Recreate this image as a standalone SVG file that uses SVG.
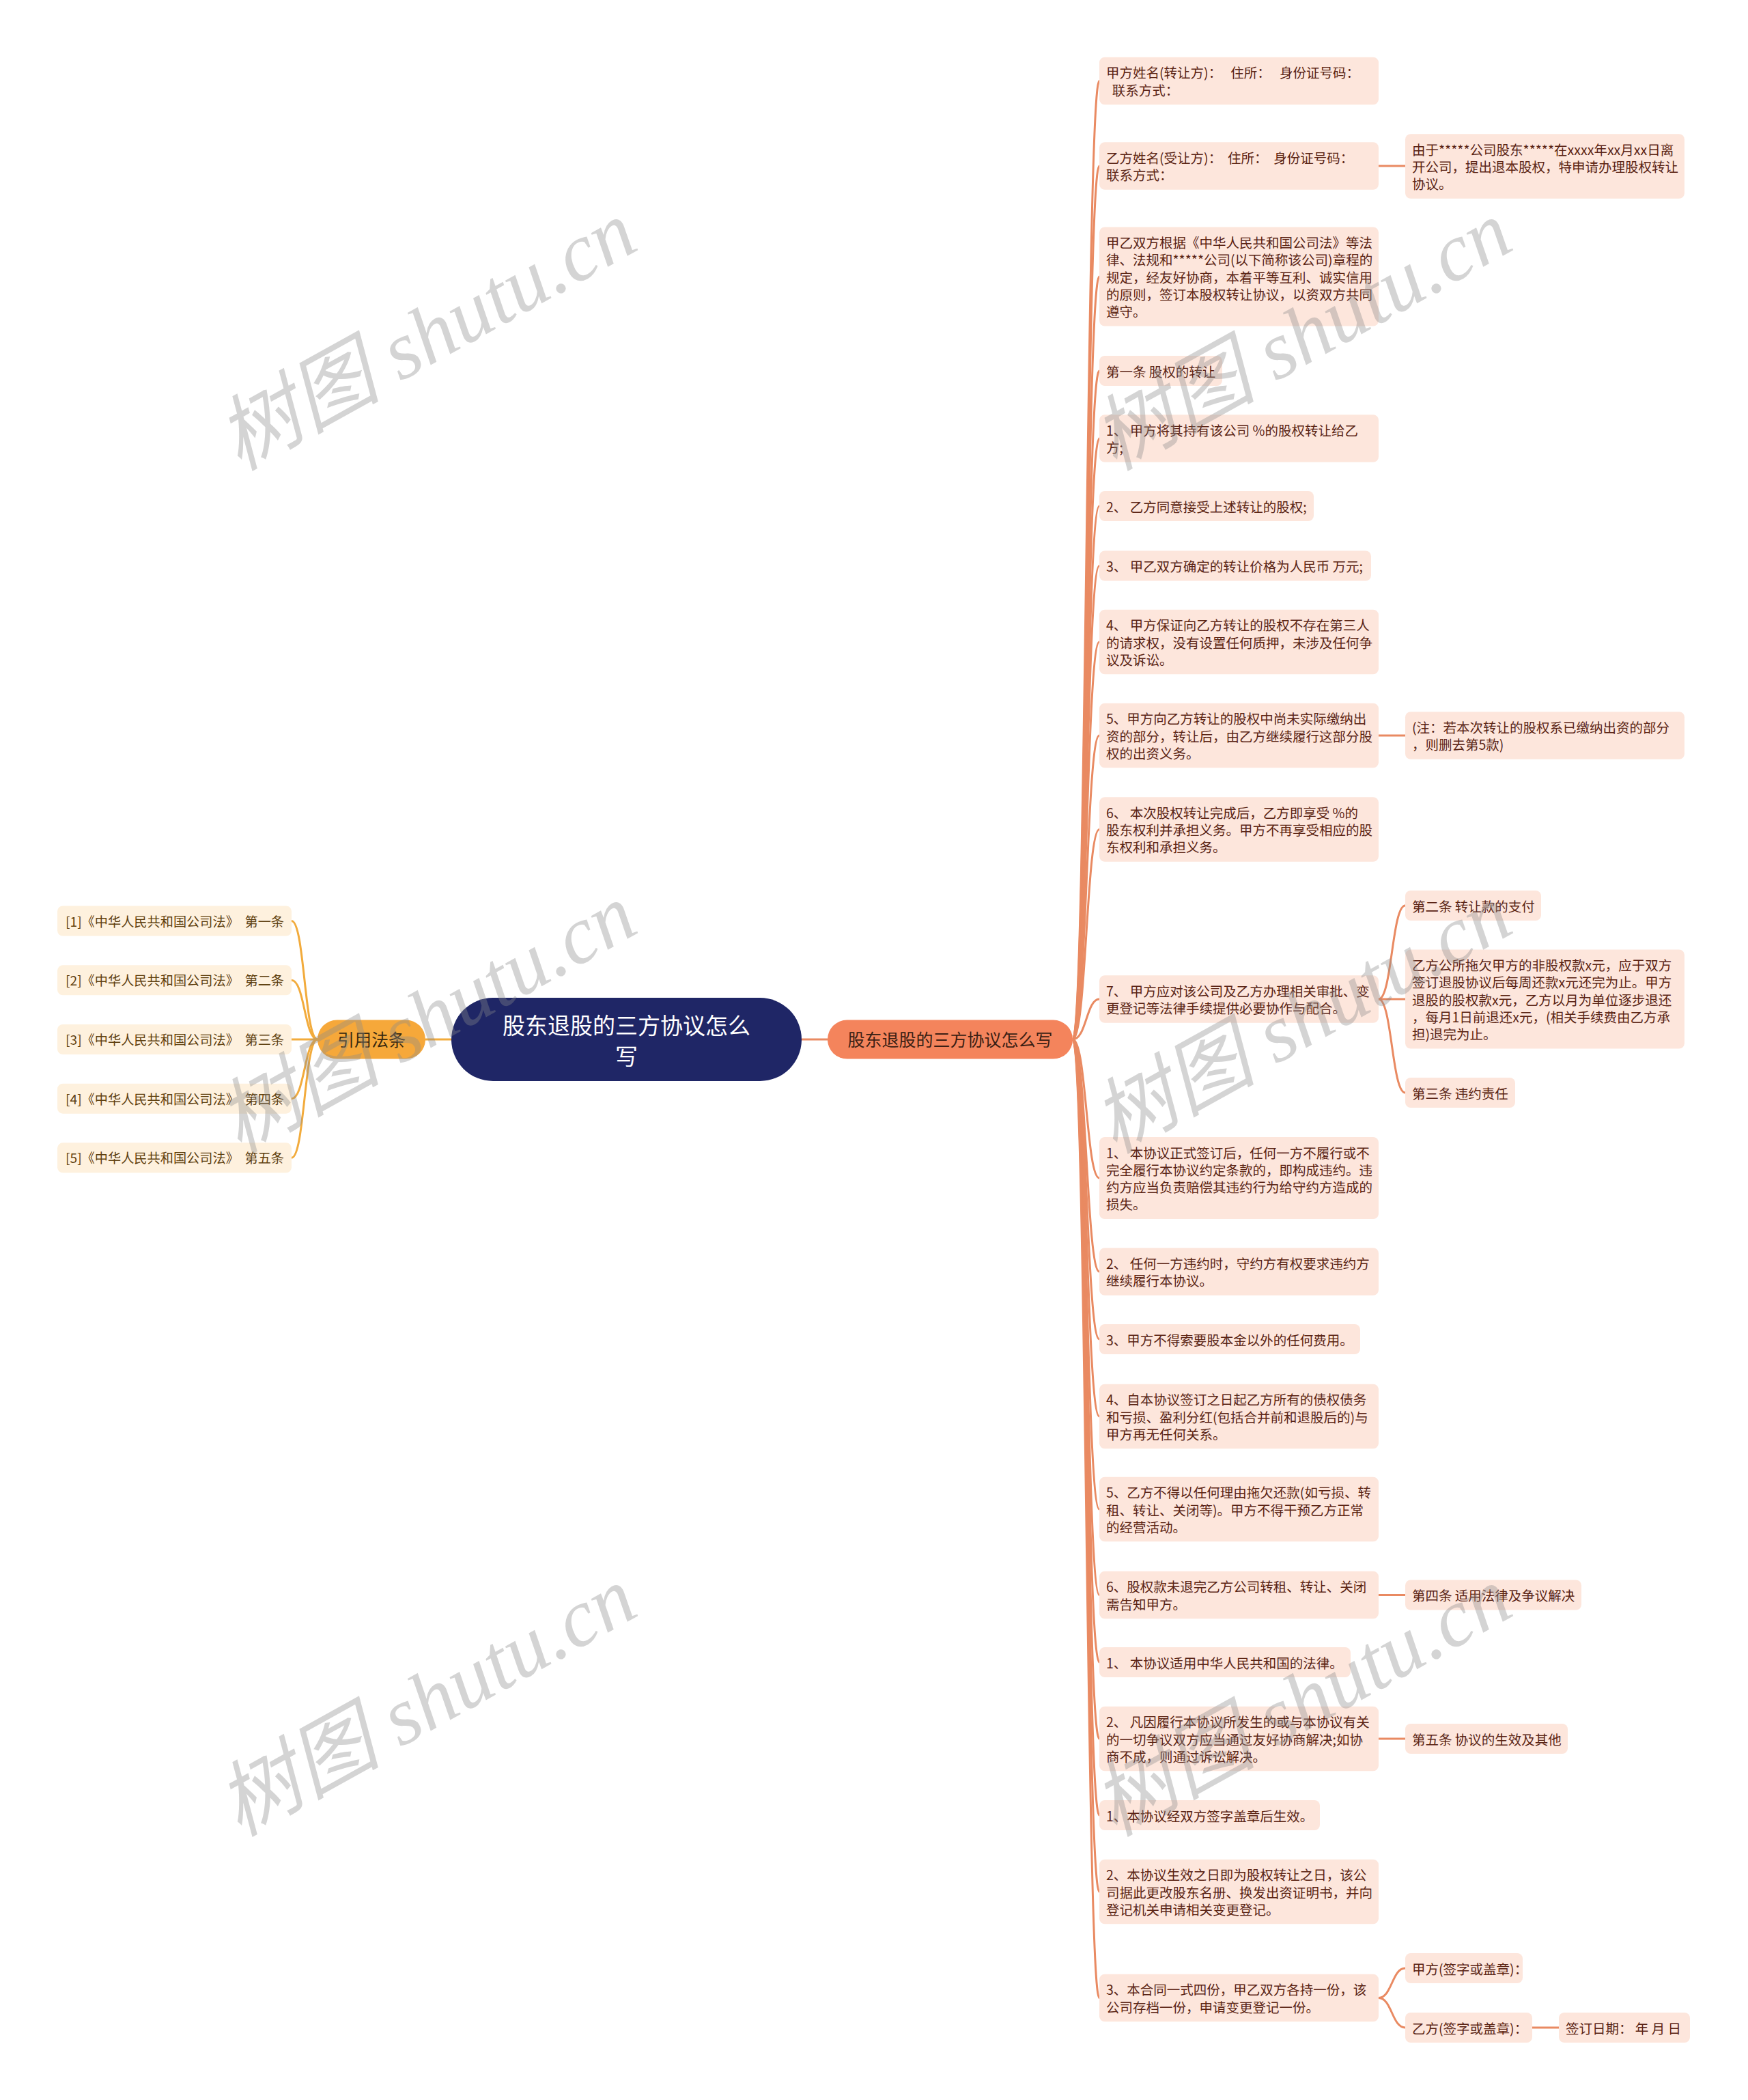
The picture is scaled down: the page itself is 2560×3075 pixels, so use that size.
<svg xmlns="http://www.w3.org/2000/svg" width="2560" height="3075" viewBox="0 0 2560 3075">
<style>
.rn{fill:#FDE6DC}
.ln{fill:#FEF1DE}
.rt{font-family:"Noto Sans CJK SC",sans-serif;font-size:19.5px;fill:#5a2414}
.lt{font-family:"Noto Sans CJK SC",sans-serif;font-size:19.2px;fill:#5e400f}
.cr{fill:none;stroke:#E98A62;stroke-width:3}
.cl{fill:none;stroke:#F2AB3C;stroke-width:3}
.wm{font-family:"Liberation Serif","Noto Sans CJK SC",serif;font-style:italic;font-size:120px;fill:#8a8a8a;opacity:0.36}
</style>
<rect width="2560" height="3075" fill="#ffffff"/>
<g id="connectors">
<path class="cl" d="M623 1522 L661 1522"/>
<path class="cr" d="M1174 1522 L1212 1522"/>
<path class="cl" d="M465 1522 C446 1522 446 1348.5 427 1348.5"/>
<path class="cl" d="M465 1522 C446 1522 446 1435.3 427 1435.3"/>
<path class="cl" d="M465 1522 L427 1522"/>
<path class="cl" d="M465 1522 C446 1522 446 1608.7 427 1608.7"/>
<path class="cl" d="M465 1522 C446 1522 446 1695.3 427 1695.3"/>
<path class="cr" d="M1571 1522 C1591 1522 1591 118.5 1610 118.5"/>
<path class="cr" d="M1571 1522 C1591 1522 1591 243 1610 243"/>
<path class="cr" d="M1571 1522 C1591 1522 1591 405 1610 405"/>
<path class="cr" d="M1571 1522 C1591 1522 1591 543 1610 543"/>
<path class="cr" d="M1571 1522 C1591 1522 1591 642 1610 642"/>
<path class="cr" d="M1571 1522 C1591 1522 1591 741 1610 741"/>
<path class="cr" d="M1571 1522 C1591 1522 1591 828.5 1610 828.5"/>
<path class="cr" d="M1571 1522 C1591 1522 1591 940 1610 940"/>
<path class="cr" d="M1571 1522 C1591 1522 1591 1077 1610 1077"/>
<path class="cr" d="M1571 1522 C1591 1522 1591 1214.5 1610 1214.5"/>
<path class="cr" d="M1571 1522 C1591 1522 1591 1463 1610 1463"/>
<path class="cr" d="M1571 1522 C1591 1522 1591 1725 1610 1725"/>
<path class="cr" d="M1571 1522 C1591 1522 1591 1862 1610 1862"/>
<path class="cr" d="M1571 1522 C1591 1522 1591 1961 1610 1961"/>
<path class="cr" d="M1571 1522 C1591 1522 1591 2074 1610 2074"/>
<path class="cr" d="M1571 1522 C1591 1522 1591 2210 1610 2210"/>
<path class="cr" d="M1571 1522 C1591 1522 1591 2335.5 1610 2335.5"/>
<path class="cr" d="M1571 1522 C1591 1522 1591 2434 1610 2434"/>
<path class="cr" d="M1571 1522 C1591 1522 1591 2546 1610 2546"/>
<path class="cr" d="M1571 1522 C1591 1522 1591 2658 1610 2658"/>
<path class="cr" d="M1571 1522 C1591 1522 1591 2770 1610 2770"/>
<path class="cr" d="M1571 1522 C1591 1522 1591 2925.5 1610 2925.5"/>
<path class="cr" d="M2019 243 L2058 243"/>
<path class="cr" d="M2019 1077 L2058 1077"/>
<path class="cr" d="M2019 1463 C2038.5 1463 2038.5 1326 2058 1326"/>
<path class="cr" d="M2019 1463 L2058 1463"/>
<path class="cr" d="M2019 1463 C2038.5 1463 2038.5 1600 2058 1600"/>
<path class="cr" d="M2019 2335.5 L2058 2335.5"/>
<path class="cr" d="M2019 2546 L2058 2546"/>
<path class="cr" d="M2019 2925.5 C2038.5 2925.5 2038.5 2882 2058 2882"/>
<path class="cr" d="M2019 2925.5 C2038.5 2925.5 2038.5 2969 2058 2969"/>
<path class="cr" d="M2244 2969 L2283 2969"/>
</g>
<g id="root">
<rect x="661" y="1461" width="513" height="122" rx="61" fill="#1F2666"/>
<text x="917.5" y="1514" text-anchor="middle" font-family="Noto Sans CJK SC, sans-serif" font-size="33" fill="#ffffff">股东退股的三方协议怎么</text>
<text x="917.5" y="1559" text-anchor="middle" font-family="Noto Sans CJK SC, sans-serif" font-size="33" fill="#ffffff">写</text>
</g>
<g id="cite">
<rect x="465" y="1493.5" width="158" height="57" rx="28.5" fill="#F6A83A"/>
<text x="544" y="1531.5" text-anchor="middle" font-family="Noto Sans CJK SC, sans-serif" font-size="25" fill="#3a2a10">引用法条</text>
</g>
<g id="main">
<rect x="1212" y="1493.5" width="359" height="57" rx="28.5" fill="#F4845C"/>
<text x="1391.5" y="1531.5" text-anchor="middle" font-family="Noto Sans CJK SC, sans-serif" font-size="25" fill="#3b1f14">股东退股的三方协议怎么写</text>
</g>
<g id="law1"><rect class="ln" x="84" y="1326.5" width="343" height="44" rx="8"/><text class="lt" x="96" y="1356.5" xml:space="preserve">[1]《中华人民共和国公司法》  第一条</text></g>
<g id="law2"><rect class="ln" x="84" y="1413.3" width="343" height="44" rx="8"/><text class="lt" x="96" y="1443.3" xml:space="preserve">[2]《中华人民共和国公司法》  第二条</text></g>
<g id="law3"><rect class="ln" x="84" y="1500" width="343" height="44" rx="8"/><text class="lt" x="96" y="1530" xml:space="preserve">[3]《中华人民共和国公司法》  第三条</text></g>
<g id="law4"><rect class="ln" x="84" y="1586.7" width="343" height="44" rx="8"/><text class="lt" x="96" y="1616.7" xml:space="preserve">[4]《中华人民共和国公司法》  第四条</text></g>
<g id="law5"><rect class="ln" x="84" y="1673.3" width="343" height="44" rx="8"/><text class="lt" x="96" y="1703.3" xml:space="preserve">[5]《中华人民共和国公司法》  第五条</text></g>
<g id="n1"><rect class="rn" x="1610" y="83.75" width="409" height="69.5" rx="8"/>
<text class="rt" x="1620" y="114.35" xml:space="preserve">甲方姓名(转让方)：   住所：   身份证号码：</text>
<text class="rt" x="1620" y="139.65" xml:space="preserve">  联系方式：</text></g>
<g id="n2"><rect class="rn" x="1610" y="208.25" width="409" height="69.5" rx="8"/>
<text class="rt" x="1620" y="238.85" xml:space="preserve">乙方姓名(受让方)：  住所：  身份证号码：</text>
<text class="rt" x="1620" y="264.15">联系方式：</text></g>
<g id="n2a"><rect class="rn" x="2058" y="196.25" width="409" height="94.5" rx="8"/>
<text class="rt" x="2068" y="226.7">由于*****公司股东*****在xxxx年xx月xx日离</text>
<text class="rt" x="2068" y="252">开公司，提出退本股权，特申请办理股权转让</text>
<text class="rt" x="2068" y="277.3">协议。</text></g>
<g id="n3"><rect class="rn" x="1610" y="332.5" width="409" height="145" rx="8"/>
<text class="rt" x="1620" y="362.9">甲乙双方根据《中华人民共和国公司法》等法</text>
<text class="rt" x="1620" y="388.2">律、法规和*****公司(以下简称该公司)章程的</text>
<text class="rt" x="1620" y="413.5">规定，经友好协商，本着平等互利、诚实信用</text>
<text class="rt" x="1620" y="438.8">的原则，签订本股权转让协议，以资双方共同</text>
<text class="rt" x="1620" y="464.1">遵守。</text></g>
<g id="n4"><rect class="rn" x="1610" y="521" width="180" height="44" rx="8"/>
<text class="rt" x="1620" y="551.5">第一条 股权的转让</text></g>
<g id="n5"><rect class="rn" x="1610" y="607.25" width="409" height="69.5" rx="8"/>
<text class="rt" x="1620" y="637.85" xml:space="preserve">1、 甲方将其持有该公司 %的股权转让给乙</text>
<text class="rt" x="1620" y="663.15">方;</text></g>
<g id="n6"><rect class="rn" x="1610" y="719" width="314" height="44" rx="8"/>
<text class="rt" x="1620" y="749.5" xml:space="preserve">2、 乙方同意接受上述转让的股权;</text></g>
<g id="n7"><rect class="rn" x="1610" y="806.5" width="398" height="44" rx="8"/>
<text class="rt" x="1620" y="837" xml:space="preserve">3、 甲乙双方确定的转让价格为人民币 万元;</text></g>
<g id="n8"><rect class="rn" x="1610" y="892.75" width="409" height="94.5" rx="8"/>
<text class="rt" x="1620" y="923.2" xml:space="preserve">4、 甲方保证向乙方转让的股权不存在第三人</text>
<text class="rt" x="1620" y="948.5">的请求权，没有设置任何质押，未涉及任何争</text>
<text class="rt" x="1620" y="973.8">议及诉讼。</text></g>
<g id="n9"><rect class="rn" x="1610" y="1029.75" width="409" height="94.5" rx="8"/>
<text class="rt" x="1620" y="1060.2">5、甲方向乙方转让的股权中尚未实际缴纳出</text>
<text class="rt" x="1620" y="1085.5">资的部分，转让后，由乙方继续履行这部分股</text>
<text class="rt" x="1620" y="1110.8">权的出资义务。</text></g>
<g id="n9a"><rect class="rn" x="2058" y="1042.25" width="409" height="69.5" rx="8"/>
<text class="rt" x="2068" y="1072.85">(注：若本次转让的股权系已缴纳出资的部分</text>
<text class="rt" x="2068" y="1098.15">，则删去第5款)</text></g>
<g id="n10"><rect class="rn" x="1610" y="1167.25" width="409" height="94.5" rx="8"/>
<text class="rt" x="1620" y="1197.7" xml:space="preserve">6、 本次股权转让完成后，乙方即享受 %的</text>
<text class="rt" x="1620" y="1223">股东权利并承担义务。甲方不再享受相应的股</text>
<text class="rt" x="1620" y="1248.3">东权利和承担义务。</text></g>
<g id="n11"><rect class="rn" x="1610" y="1428.25" width="409" height="69.5" rx="8"/>
<text class="rt" x="1620" y="1458.85" xml:space="preserve">7、 甲方应对该公司及乙方办理相关审批、变</text>
<text class="rt" x="1620" y="1484.15">更登记等法律手续提供必要协作与配合。</text></g>
<g id="n11a"><rect class="rn" x="2058" y="1304" width="199" height="44" rx="8"/>
<text class="rt" x="2068" y="1334.5">第二条 转让款的支付</text></g>
<g id="n11b"><rect class="rn" x="2058" y="1390.5" width="409" height="145" rx="8"/>
<text class="rt" x="2068" y="1420.9">乙方公所拖欠甲方的非股权款x元，应于双方</text>
<text class="rt" x="2068" y="1446.2">签订退股协议后每周还款x元还完为止。甲方</text>
<text class="rt" x="2068" y="1471.5">退股的股权款x元，乙方以月为单位逐步退还</text>
<text class="rt" x="2068" y="1496.8">，每月1日前退还x元，(相关手续费由乙方承</text>
<text class="rt" x="2068" y="1522.1">担)退完为止。</text></g>
<g id="n11c"><rect class="rn" x="2058" y="1578" width="161" height="44" rx="8"/>
<text class="rt" x="2068" y="1608.5">第三条 违约责任</text></g>
<g id="n12"><rect class="rn" x="1610" y="1665" width="409" height="120" rx="8"/>
<text class="rt" x="1620" y="1695.55" xml:space="preserve">1、 本协议正式签订后，任何一方不履行或不</text>
<text class="rt" x="1620" y="1720.85">完全履行本协议约定条款的，即构成违约。违</text>
<text class="rt" x="1620" y="1746.15">约方应当负责赔偿其违约行为给守约方造成的</text>
<text class="rt" x="1620" y="1771.45">损失。</text></g>
<g id="n13"><rect class="rn" x="1610" y="1827.25" width="409" height="69.5" rx="8"/>
<text class="rt" x="1620" y="1857.85" xml:space="preserve">2、 任何一方违约时，守约方有权要求违约方</text>
<text class="rt" x="1620" y="1883.15">继续履行本协议。</text></g>
<g id="n14"><rect class="rn" x="1610" y="1939" width="382" height="44" rx="8"/>
<text class="rt" x="1620" y="1969.5">3、甲方不得索要股本金以外的任何费用。</text></g>
<g id="n15"><rect class="rn" x="1610" y="2026.75" width="409" height="94.5" rx="8"/>
<text class="rt" x="1620" y="2057.2">4、自本协议签订之日起乙方所有的债权债务</text>
<text class="rt" x="1620" y="2082.5">和亏损、盈利分红(包括合并前和退股后的)与</text>
<text class="rt" x="1620" y="2107.8">甲方再无任何关系。</text></g>
<g id="n16"><rect class="rn" x="1610" y="2162.75" width="409" height="94.5" rx="8"/>
<text class="rt" x="1620" y="2193.2">5、乙方不得以任何理由拖欠还款(如亏损、转</text>
<text class="rt" x="1620" y="2218.5">租、转让、关闭等)。甲方不得干预乙方正常</text>
<text class="rt" x="1620" y="2243.8">的经营活动。</text></g>
<g id="n17"><rect class="rn" x="1610" y="2300.75" width="409" height="69.5" rx="8"/>
<text class="rt" x="1620" y="2331.35">6、股权款未退完乙方公司转租、转让、关闭</text>
<text class="rt" x="1620" y="2356.65">需告知甲方。</text></g>
<g id="n17a"><rect class="rn" x="2058" y="2313.5" width="258" height="44" rx="8"/>
<text class="rt" x="2068" y="2344">第四条 适用法律及争议解决</text></g>
<g id="n18"><rect class="rn" x="1610" y="2412" width="368" height="44" rx="8"/>
<text class="rt" x="1620" y="2442.5" xml:space="preserve">1、 本协议适用中华人民共和国的法律。</text></g>
<g id="n19"><rect class="rn" x="1610" y="2498.75" width="409" height="94.5" rx="8"/>
<text class="rt" x="1620" y="2529.2" xml:space="preserve">2、 凡因履行本协议所发生的或与本协议有关</text>
<text class="rt" x="1620" y="2554.5">的一切争议双方应当通过友好协商解决;如协</text>
<text class="rt" x="1620" y="2579.8">商不成，则通过诉讼解决。</text></g>
<g id="n19a"><rect class="rn" x="2058" y="2524" width="238" height="44" rx="8"/>
<text class="rt" x="2068" y="2554.5">第五条 协议的生效及其他</text></g>
<g id="n20"><rect class="rn" x="1610" y="2636" width="323" height="44" rx="8"/>
<text class="rt" x="1620" y="2666.5">1、本协议经双方签字盖章后生效。</text></g>
<g id="n21"><rect class="rn" x="1610" y="2722.75" width="409" height="94.5" rx="8"/>
<text class="rt" x="1620" y="2753.2">2、本协议生效之日即为股权转让之日，该公</text>
<text class="rt" x="1620" y="2778.5">司据此更改股东名册、换发出资证明书，并向</text>
<text class="rt" x="1620" y="2803.8">登记机关申请相关变更登记。</text></g>
<g id="n22"><rect class="rn" x="1610" y="2890.75" width="409" height="69.5" rx="8"/>
<text class="rt" x="1620" y="2921.35">3、本合同一式四份，甲乙双方各持一份，该</text>
<text class="rt" x="1620" y="2946.65">公司存档一份，申请变更登记一份。</text></g>
<g id="n22a"><rect class="rn" x="2058" y="2860" width="172" height="44" rx="8"/>
<text class="rt" x="2068" y="2890.5">甲方(签字或盖章)：</text></g>
<g id="n22b"><rect class="rn" x="2058" y="2947" width="186" height="44" rx="8"/>
<text class="rt" x="2068" y="2977.5">乙方(签字或盖章)：</text></g>
<g id="n22c"><rect class="rn" x="2283" y="2947" width="192" height="44" rx="8"/>
<text class="rt" x="2293" y="2977.5" xml:space="preserve">签订日期： 年 月 日</text></g>
<g id="watermarks">
<text class="wm" x="350" y="690" transform="rotate(-29 350 690)">树图 shutu.cn</text>
<text class="wm" x="1632" y="690" transform="rotate(-29 1632 690)">树图 shutu.cn</text>
<text class="wm" x="350" y="1690" transform="rotate(-29 350 1690)">树图 shutu.cn</text>
<text class="wm" x="1632" y="1690" transform="rotate(-29 1632 1690)">树图 shutu.cn</text>
<text class="wm" x="350" y="2690" transform="rotate(-29 350 2690)">树图 shutu.cn</text>
<text class="wm" x="1632" y="2690" transform="rotate(-29 1632 2690)">树图 shutu.cn</text>
</g>
</svg>
